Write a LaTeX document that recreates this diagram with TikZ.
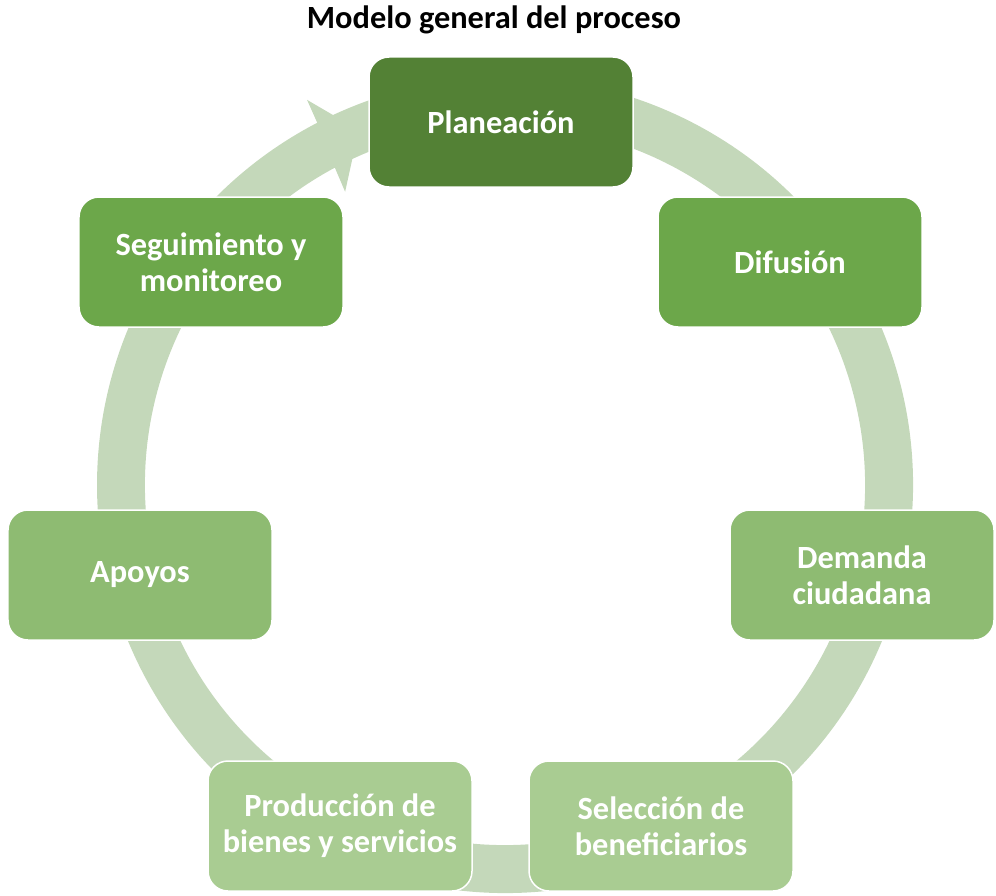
\documentclass[tikz,border=0pt]{standalone}
\usepackage{fontspec}
\setmainfont{Carlito}
\usetikzlibrary{calc}
\definecolor{cA}{HTML}{538135}
\definecolor{cB}{HTML}{6CA74A}
\definecolor{cC}{HTML}{8EBB72}
\definecolor{cD}{HTML}{A9CC92}
\definecolor{ringc}{HTML}{C4D8BA}
\tikzset{
  stagebox/.style={rounded corners=20bp, minimum width=264bp, minimum height=130bp,
    draw=white, line width=1.5bp, text=white, align=center, inner sep=2bp,
    font=\fontsize{32.5}{36}\selectfont\bfseries},
  titletext/.style={font=\fontsize{32.5}{36}\selectfont\bfseries, text=black, inner sep=0pt}
}
\begin{document}
\begin{tikzpicture}[x=1bp,y=-1bp]
\useasboundingbox (0,0) rectangle (996,896);
\coordinate (O) at (505,485);
% ring with arrowhead
\fill[ringc] ($(O)+(117.4:408bp)$) arc[start angle=117.4,end angle=-255,radius=408bp]
  -- ($(O)+(-255:360bp)$) arc[start angle=-255,end angle=118.2,radius=360bp]
  -- ($(O)+(118.6:334bp)$) -- ($(O)+(112.4:384bp)$) -- ($(O)+(117.2:433bp)$) -- cycle;
% title
\node[titletext, anchor=base] (title) at (494,28) {Modelo general del proceso};
% stages
\node[stagebox, fill=cA] (plan) at (501,122) {Planeación};
\node[stagebox, fill=cB] (dif) at (790,262) {Difusión};
\node[stagebox, fill=cC] (dem) at (862,575) {Demanda\\ciudadana};
\node[stagebox, fill=cD] (sel) at (661,826) {Selección de\\beneficiarios};
\node[stagebox, fill=cD] (prod) at (340,826) {Producción de\\bienes y servicios};
\node[stagebox, fill=cC] (apo) at (140,575) {Apoyos};
\node[stagebox, fill=cB] (seg) at (211,262) {Seguimiento y\\monitoreo};
\end{tikzpicture}
\end{document}
